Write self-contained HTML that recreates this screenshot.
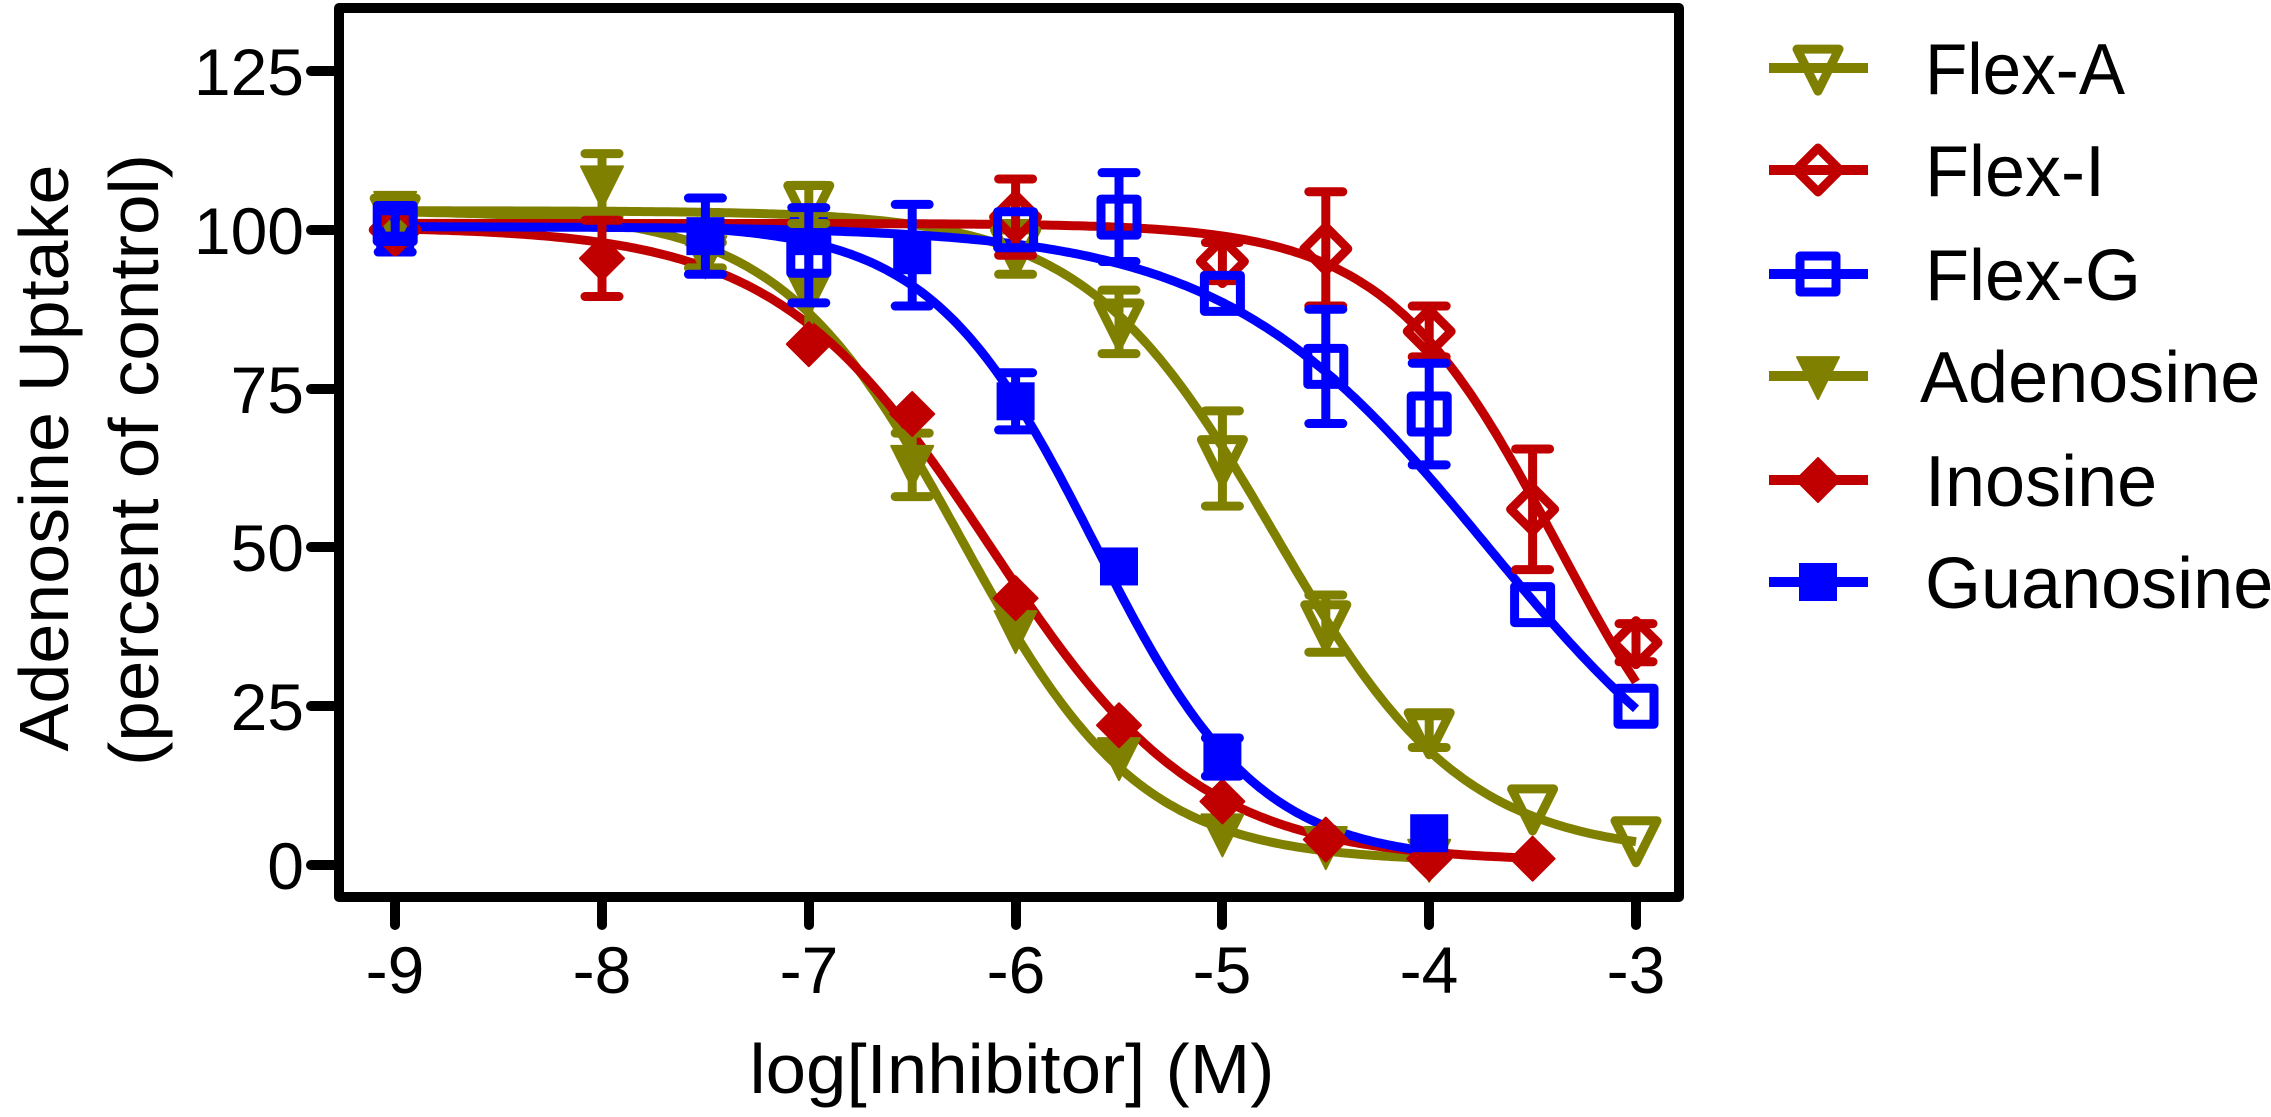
<!DOCTYPE html>
<html><head><meta charset="utf-8"><style>
html,body{margin:0;padding:0;background:#fff;}
svg{display:block;}
text{font-family:"Liberation Sans",Arial,sans-serif;fill:#000;}
</style></head><body>
<svg id="s" width="2271" height="1117" viewBox="0 0 2271 1117" xmlns="http://www.w3.org/2000/svg">
<rect width="2271" height="1117" fill="#fff"/>
<g id="plot"></g>
<rect x="339" y="8" width="1340" height="889" fill="none" stroke="#000" stroke-width="10" stroke-linejoin="round"/>
<g stroke="#000" stroke-width="10" stroke-linecap="round">
<line x1="311" y1="865" x2="334" y2="865"/><line x1="311" y1="706" x2="334" y2="706"/>
<line x1="311" y1="547" x2="334" y2="547"/><line x1="311" y1="389" x2="334" y2="389"/>
<line x1="311" y1="230" x2="334" y2="230"/><line x1="311" y1="71" x2="334" y2="71"/>
<line x1="395" y1="902" x2="395" y2="925"/><line x1="602" y1="902" x2="602" y2="925"/>
<line x1="809" y1="902" x2="809" y2="925"/><line x1="1016" y1="902" x2="1016" y2="925"/>
<line x1="1222" y1="902" x2="1222" y2="925"/><line x1="1429" y1="902" x2="1429" y2="925"/>
<line x1="1636" y1="902" x2="1636" y2="925"/>
</g>
<g font-size="66" text-anchor="end">
<text x="304" y="889">0</text><text x="304" y="730">25</text><text x="304" y="571">50</text>
<text x="304" y="413">75</text><text x="304" y="254">100</text><text x="304" y="95">125</text>
</g>
<g font-size="66" text-anchor="middle">
<text x="395" y="993">-9</text><text x="602" y="993">-8</text><text x="809" y="993">-7</text>
<text x="1016" y="993">-6</text><text x="1222" y="993">-5</text><text x="1429" y="993">-4</text>
<text x="1636" y="993">-3</text>
</g>
<text x="1012" y="1093" font-size="70" text-anchor="middle" textLength="525" lengthAdjust="spacingAndGlyphs">log[Inhibitor] (M)</text>
<text transform="translate(68,458) rotate(-90)" font-size="70" text-anchor="middle" textLength="587" lengthAdjust="spacingAndGlyphs">Adenosine Uptake</text>
<text transform="translate(158,460) rotate(-90)" font-size="70" text-anchor="middle" textLength="612" lengthAdjust="spacingAndGlyphs">(percent of control)</text>
<g id="legend"></g>
<g font-size="72">
<text x="1925" y="94" textLength="200" lengthAdjust="spacingAndGlyphs">Flex-A</text>
<text x="1925" y="196">Flex-I</text>
<text x="1925" y="300">Flex-G</text>
<text x="1920" y="402">Adenosine</text>
<text x="1925" y="506">Inosine</text>
<text x="1925" y="608">Guanosine</text>
</g>
</svg>
<script>
const NS="http://www.w3.org/2000/svg";
const X=v=>1636+(v+3)*206.8, Y=p=>865-p*6.352;
const OL="#808000",RD="#c00000",BL="#0000ff";
function el(tag,attrs,parent){const e=document.createElementNS(NS,tag);for(const k in attrs)e.setAttribute(k,attrs[k]);parent.appendChild(e);return e;}
const plot=document.getElementById("plot");
function marker(type,cx,cy,col,parent){
  if(type==="tri"||type==="triF"){const w=21,h=42;
    el("path",{d:`M${cx-w},${cy-h*0.45} L${cx+w},${cy-h*0.45} L${cx},${cy+h*0.55} Z`,fill:type==="triF"?col:"none",stroke:col,"stroke-width":type==="triF"?2:9,"stroke-linejoin":"round"},parent);}
  else if(type==="dia"||type==="diaF"){const r=22;
    el("path",{d:`M${cx},${cy-r} L${cx+r},${cy} L${cx},${cy+r} L${cx-r},${cy} Z`,fill:type==="diaF"?col:"none",stroke:col,"stroke-width":type==="diaF"?2:9,"stroke-linejoin":"round"},parent);}
  else if(type==="sq"){el("rect",{x:cx-18,y:cy-18,width:36,height:36,fill:"none",stroke:col,"stroke-width":9,"stroke-linejoin":"round"},parent);}
  else {el("rect",{x:cx-19,y:cy-19,width:38,height:38,fill:col},parent);}
}
const series=[
 {m:"triF",c:OL,top:103,bot:0.5,ic:-6.27,h:1.0,end:-4,pts:[[-9,103,0],[-8,107,5],[-7.5,96,2],[-7,90,8],[-6.5,63,5],[-6,37,0],[-5.5,17,0],[-5,5,0],[-4.5,3,0],[-4,1,0]]},
 {m:"diaF",c:RD,top:100.5,bot:0.5,ic:-6.13,h:0.85,end:-3.5,pts:[[-9,100,0],[-8,95.5,6],[-7,82,0],[-6.5,71,0],[-6,42,0],[-5.5,22,0],[-5,10,0],[-4.5,4,0],[-4,1,0],[-3.5,1,0]]},
 {m:"sqF",c:BL,top:101,bot:0.5,ic:-5.62,h:1.1,end:-4,pts:[[-9,100,3.5],[-7.5,99,6],[-7,99,0],[-6.5,96,8],[-6,73,4.5],[-5.5,47,0],[-5,17,3],[-4,5,0]]},
 {m:"tri",c:OL,top:103,bot:1.5,ic:-4.75,h:0.95,end:-3,pts:[[-9,102,0],[-7,104,3],[-6,97,4],[-5.5,85.5,5],[-5,64,7.5],[-4.5,38,4.5],[-4,21,2.5],[-3.5,9,0],[-3,4,0]]},
 {m:"dia",c:RD,top:101,bot:0,ic:-3.38,h:1.05,end:-3,pts:[[-9,100,0],[-6,102,6],[-5,95,3],[-4.5,97,9],[-4,84,4],[-3.5,56,9.5],[-3,35,3]]},
 {m:"sq",c:BL,top:100.5,bot:0,ic:-3.72,h:0.68,end:-3,pts:[[-9,101,2],[-7,96,7.5],[-6,100,0],[-5.5,102,7],[-5,90,0],[-4.5,78.5,9],[-4,71,8],[-3.5,41,0],[-3,25,0]]}
];
for(const s of series){let d="";for(let v=-9;v<=s.end+1e-9;v+=0.02){const p=s.bot+(s.top-s.bot)/(1+Math.pow(10,(v-s.ic)*s.h));d+=(d?"L":"M")+X(v).toFixed(1)+","+Y(p).toFixed(1);}
 el("path",{d,fill:"none",stroke:s.c,"stroke-width":9,"stroke-linejoin":"round"},plot);}
for(const s of series){for(const [v,p,e] of s.pts){if(e>0){const x=X(v);
 el("line",{x1:x,y1:Y(p+e),x2:x,y2:Y(p-e),stroke:s.c,"stroke-width":9},plot);
 el("line",{x1:x-17,y1:Y(p+e),x2:x+17,y2:Y(p+e),stroke:s.c,"stroke-width":9,"stroke-linecap":"round"},plot);
 el("line",{x1:x-17,y1:Y(p-e),x2:x+17,y2:Y(p-e),stroke:s.c,"stroke-width":9,"stroke-linecap":"round"},plot);}
 marker(s.m,X(v),Y(p),s.c,plot);}}
const lg=document.getElementById("legend");
const leg=[["tri",OL,68],["dia",RD,170],["sq",BL,274],["triF",OL,376],["diaF",RD,480],["sqF",BL,582]];
for(const [m,c,y] of leg){el("line",{x1:1769,y1:y,x2:1868,y2:y,stroke:c,"stroke-width":10},lg);marker(m,1818,y,c,lg);}
</script>
</body></html>
